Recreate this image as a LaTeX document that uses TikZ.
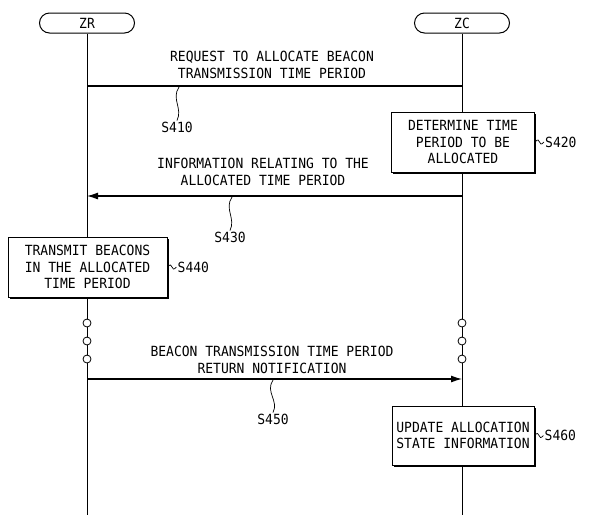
\documentclass[tikz,border=0pt]{standalone}
\usepackage{fontspec}
\newfontfamily\diafont[FakeStretch=0.93]{DejaVu Sans Mono}
\usetikzlibrary{arrows.meta,shadows,positioning}

\begin{document}
\begin{tikzpicture}[x=1pt,y=-1pt,
  every node/.style={font=\diafont\fontsize{14}{16.5}\selectfont},
  actor/.style={draw,line width=1pt,rounded corners=10pt,minimum width=95pt,minimum height=20pt,inner sep=0pt},
  stepbox/.style={draw,line width=1pt,fill=white,align=center,inner sep=0pt,
    drop shadow={shadow xshift=1.5pt,shadow yshift=-1.5pt,opacity=1,fill=black}},
  msg/.style={line width=1.1pt},
  dot/.style={circle,draw,fill=white,line width=0.8pt,minimum size=8pt,inner sep=0pt},
  lbl/.style={inner sep=1pt},
  squig/.style={line width=0.7pt}]
\useasboundingbox (0,0) rectangle (593,515);

\node[actor] (zr) at (87,23) {ZR};
\node[actor] (zc) at (462,23) {ZC};
\coordinate (zrend) at (87,515);
\coordinate (zcend) at (462,515);
\draw[line width=0.9pt] (zr.south) -- (zrend);
\draw[line width=0.9pt] (zc.south) -- (zcend);

% S410
\coordinate (m1a) at (87,86);
\coordinate (m1b) at (462,86);
\draw[msg] (m1a) -- (m1b);
\node[align=center] (t410) at (272,65) {REQUEST TO ALLOCATE BEACON\\TRANSMISSION TIME PERIOD};
\coordinate (c410) at (179,87);
\node[lbl] (s410) at (177,127) {S410};
\draw[squig] (c410) .. controls +(-8,12) and +(6,-12) .. (s410.north);

% S420
\node[stepbox,minimum width=143pt,minimum height=60pt] (b420) at (463,142) {DETERMINE TIME\\PERIOD TO BE\\ALLOCATED};
\node[lbl,right=9pt of b420] (s420) {S420};
\draw[squig] (b420.east) .. controls +(6,-7) and +(-6,7) .. (s420.west);

% S430
\coordinate (m2a) at (462,196);
\coordinate (m2b) at (87,196);
\draw[msg,-{Latex[length=11pt,width=7pt]}] (m2a) -- (m2b);
\node[align=center] (t430) at (263,172) {INFORMATION RELATING TO THE\\ALLOCATED TIME PERIOD};
\coordinate (c430) at (232,197);
\node[lbl] (s430) at (230,237) {S430};
\draw[squig] (c430) .. controls +(-8,12) and +(6,-12) .. (s430.north);

% S440
\node[stepbox,minimum width=159pt,minimum height=60pt] (b440) at (87.5,267) {TRANSMIT BEACONS\\IN THE ALLOCATED\\TIME PERIOD};
\node[lbl,right=9pt of b440] (s440) {S440};
\draw[squig] (b440.east) .. controls +(6,-7) and +(-6,7) .. (s440.west);

\foreach \y [count=\i] in {323,341,359} {
  \node[dot] (zrdot\i) at (87,\y) {};
  \node[dot] (zcdot\i) at (462,\y) {};
}

% S450
\coordinate (m3a) at (87,379);
\coordinate (m3b) at (462,379);
\draw[msg,-{Latex[length=11pt,width=7pt]}] (m3a) -- (m3b);
\node[align=center] (t450) at (272,360) {BEACON TRANSMISSION TIME PERIOD\\RETURN NOTIFICATION};
\coordinate (c450) at (273,380);
\node[lbl] (s450) at (273,419) {S450};
\draw[squig] (c450) .. controls +(-8,12) and +(6,-12) .. (s450.north);

% S460
\node[stepbox,minimum width=142pt,minimum height=59pt] (b460) at (463,435.5) {UPDATE ALLOCATION\\STATE INFORMATION};
\node[lbl,right=9pt of b460] (s460) {S460};
\draw[squig] (b460.east) .. controls +(6,-7) and +(-6,7) .. (s460.west);
\end{tikzpicture}
\end{document}
